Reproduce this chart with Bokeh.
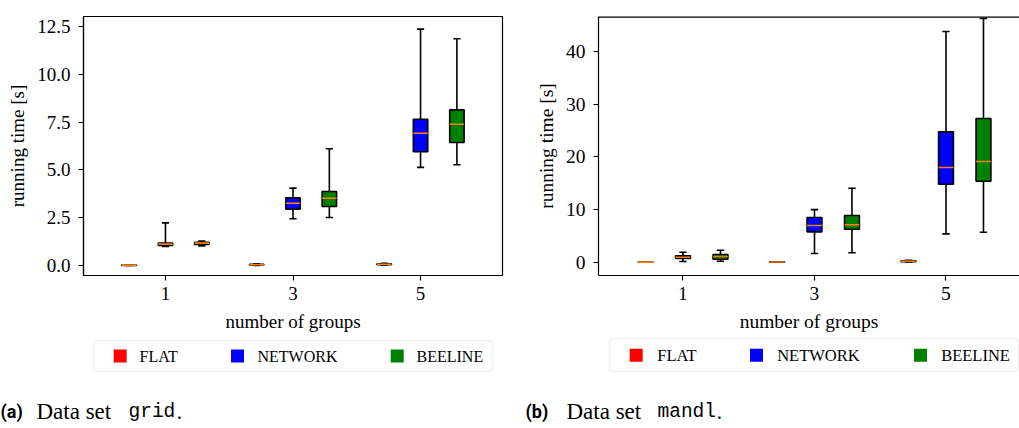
from bokeh.plotting import figure
from bokeh.models import (Range1d, FixedTicker, PrintfTickFormatter, Span,
                          ColumnDataSource, BoxAnnotation)
from bokeh.layouts import row, column
from bokeh.core.properties import value
from bokeh.embed import file_html
from bokeh.resources import INLINE

groups = [1, 3, 5]
methods = ["FLAT", "NETWORK", "BEELINE"]
colors = ["#ff0000", "#0000ff", "#008000"]
median_color = "#ff7f0e"

# per group: [lower whisker, q1, median, q3, upper whisker]  (running time in s)
grid_flat = [[0.00, 0.01, 0.02, 0.03, 0.04],
             [0.01, 0.03, 0.04, 0.06, 0.08],
             [0.03, 0.05, 0.07, 0.09, 0.12]]
grid_network = [[1.00, 1.05, 1.12, 1.18, 2.23],
                [2.45, 2.95, 3.26, 3.54, 4.05],
                [5.13, 5.95, 6.92, 7.65, 12.36]]
grid_beeline = [[1.03, 1.10, 1.17, 1.22, 1.28],
                [2.51, 3.09, 3.52, 3.87, 6.11],
                [5.27, 6.43, 7.39, 8.14, 11.86]]

mandl_flat = [[0.00, 0.01, 0.03, 0.06, 0.10],
              [0.01, 0.03, 0.05, 0.08, 0.12],
              [0.05, 0.12, 0.20, 0.28, 0.40]]
mandl_network = [[0.15, 0.72, 0.97, 1.23, 1.92],
                 [1.67, 5.78, 6.98, 8.49, 10.00],
                 [5.40, 14.81, 17.97, 24.74, 43.76]]
mandl_beeline = [[0.21, 0.59, 1.10, 1.48, 2.29],
                 [1.80, 6.28, 7.11, 8.87, 14.05],
                 [5.71, 15.38, 19.11, 27.27, 46.23]]

grid_yticks = [0, 2.5, 5, 7.5, 10, 12.5]
mandl_yticks = [0, 10, 20, 30, 40]

captions = [("(a)", "grid"), ("(b)", "mandl")]

OFFSET = 0.57
BOXW = 0.226
SERIF = "Liberation Serif"


def style_axis(ax, fs):
    ax.axis_line_color = "black"
    ax.axis_line_width = 1.2
    ax.major_tick_line_color = "black"
    ax.major_tick_line_width = 1.2
    ax.major_tick_out = 5
    ax.major_tick_in = 0
    ax.minor_tick_line_color = None
    ax.major_label_text_font = SERIF
    ax.major_label_text_font_size = fs
    ax.major_label_text_color = "black"
    ax.axis_label_text_font = SERIF
    ax.axis_label_text_font_size = fs
    ax.axis_label_text_font_style = "normal"
    ax.axis_label_text_color = "black"


def make_panel(series, y0, y1, yticks, fmt, width, height, mb_left, mb_right, mb_top,
               mb_bottom, x_end, fs, outline):
    p = figure(width=width, height=height, output_backend="svg", toolbar_location=None,
               title_location=None,
               x_range=Range1d(-0.285, x_end), y_range=Range1d(y0, y1),
               min_border_left=mb_left, min_border_right=mb_right,
               min_border_top=mb_top, min_border_bottom=mb_bottom)
    p.grid.visible = False
    p.background_fill_color = "white"
    p.border_fill_color = "white"

    xax = p.below[0]
    yax = p.left[0]
    xax.ticker = FixedTicker(ticks=groups)
    xax.axis_label = "number of groups"
    yax.ticker = FixedTicker(ticks=yticks)
    if fmt:
        yax.formatter = PrintfTickFormatter(format=fmt)
    yax.axis_label = "running time [s]"
    for ax in (xax, yax):
        style_axis(ax, fs)
    xax.major_label_standoff = 6
    yax.major_label_standoff = 8
    xax.axis_label_standoff = 8
    yax.axis_label_standoff = 6

    if outline:
        p.outline_line_color = "black"
        p.outline_line_width = 1.2
    else:
        # the panel is cut at the page edge: only the top border line is drawn
        p.outline_line_color = None
        p.add_layout(Span(location=y1, dimension="width", line_color="black",
                          line_width=2.4))

    offsets = [-OFFSET, 0.0, OFFSET]
    for stats, color, off in zip(series, colors, offsets):
        xs = [g + off for g in groups]
        src = ColumnDataSource(dict(
            x=xs,
            xl=[x - BOXW / 2 for x in xs], xr=[x + BOXW / 2 for x in xs],
            cl=[x - BOXW / 4 for x in xs], cr=[x + BOXW / 4 for x in xs],
            lo=[s[0] for s in stats], q1=[s[1] for s in stats], med=[s[2] for s in stats],
            q3=[s[3] for s in stats], hi=[s[4] for s in stats]))
        p.segment(x0="x", y0="q3", x1="x", y1="hi", source=src, line_color="black", line_width=1.6)
        p.segment(x0="x", y0="lo", x1="x", y1="q1", source=src, line_color="black", line_width=1.6)
        p.segment(x0="cl", y0="hi", x1="cr", y1="hi", source=src, line_color="black", line_width=1.6)
        p.segment(x0="cl", y0="lo", x1="cr", y1="lo", source=src, line_color="black", line_width=1.6)
        p.vbar(x="x", width=BOXW, bottom="q1", top="q3", source=src, fill_color=color,
               line_color="black", line_width=1.6)
        p.segment(x0="xl", y0="med", x1="xr", y1="med", source=src, line_color=median_color,
                  line_width=1.6)
    return p


# plot frames in a row share top/bottom edges, so both use the same borders
p1 = make_panel([grid_flat, grid_network, grid_beeline], -0.52, 13.02, grid_yticks, "%.1f",
                530, 337, 83, 28, 16, 62, 6.285, "19px", True)
p2 = make_panel([mandl_flat, mandl_network, mandl_beeline], -2.50, 46.61, mandl_yticks, None,
                489, 337, 68, 0, 16, 62, 6.118, "19.5px", False)

# bottom strip: legends and sub-captions (1 data unit = 1 pixel, y up from page bottom)
H = 91
pb = figure(width=1019, height=H, output_backend="svg", toolbar_location=None,
            title_location=None,
            x_range=Range1d(0, 1019), y_range=Range1d(0, H), min_border=0,
            x_axis_type=None, y_axis_type=None)
pb.grid.visible = False
pb.outline_line_color = None
pb.background_fill_color = "white"
pb.border_fill_color = "white"

legend_layout = [
    # box (left, right, bottom, top), swatch x centres, label x, row y, font size
    ((93, 492, 57, 88), [119.7, 237.0, 396.7], [139, 257, 416], 72.5, "16px"),
    ((609, 1018, 57, 90), [635.7, 756.0, 920.0], [656.7, 776.7, 940.7], 73.3, "16.5px"),
]
for (l, r, b, t), sx, tx, ry, lfs in legend_layout:
    pb.add_layout(BoxAnnotation(left=l, right=r, bottom=b, top=t, fill_color="white",
                                fill_alpha=1.0, line_color="#cccccc", line_width=1.5,
                                border_radius=4, level="underlay"))
    pb.rect(x=sx, y=[ry] * 3, width=13, height=13, fill_color=colors, line_color=None)
    pb.text(x=tx, y=[ry] * 3, text=methods, text_font=value(SERIF), text_font_size=lfs,
            text_baseline="middle", text_color="black")

cap_x = [(0, 36, 128, 176), (525, 566, 657, 716)]
CY = 17.5
for (tag, name), (xa, xb, xc, xd) in zip(captions, cap_x):
    pb.text(x=[xa], y=[CY], text=[tag], text_font=value("Roboto"), text_font_style="bold",
            text_font_size="18px", text_baseline="middle", text_color="black")
    pb.text(x=[xb], y=[CY], text=["Data set"], text_font=value(SERIF),
            text_font_size="23px", text_baseline="middle", text_color="black")
    pb.text(x=[xc], y=[CY - 1], text=[name], text_font=value("Liberation Mono"),
            text_font_size="19.5px", text_baseline="middle", text_color="black")
    pb.text(x=[xd], y=[CY], text=["."], text_font=value(SERIF),
            text_font_size="23px", text_baseline="middle", text_color="black")

layout = column(row(p1, p2), pb)
open("out.html", "w").write(file_html(layout, INLINE))
